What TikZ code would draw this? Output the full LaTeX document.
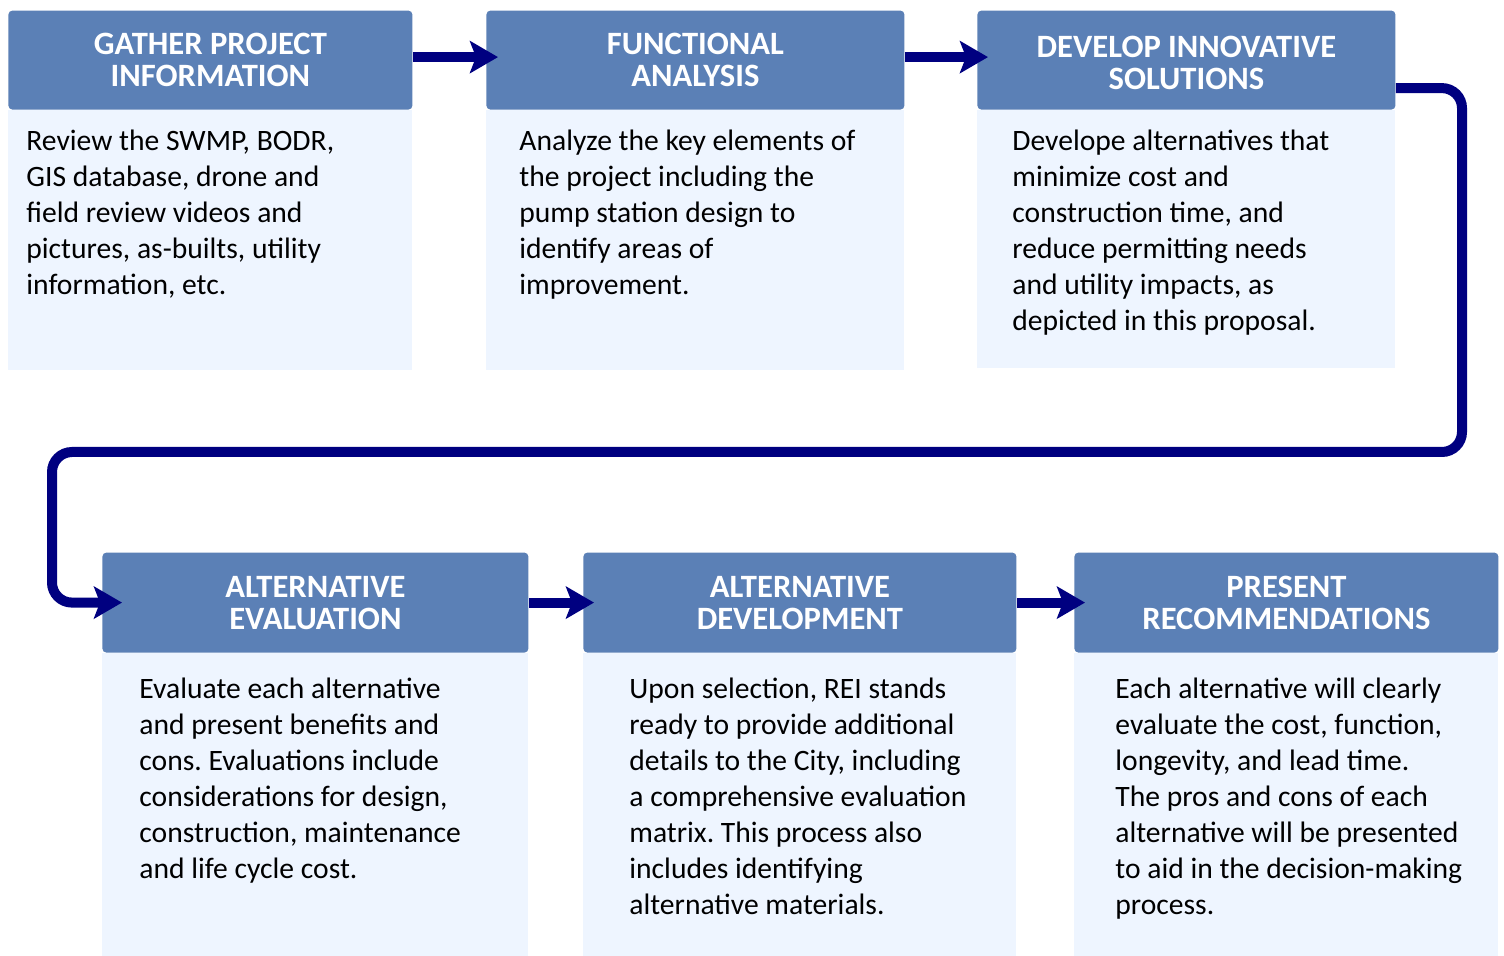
\documentclass[tikz,border=0pt]{standalone}
\usepackage{fontspec}
\setmainfont{Carlito}
\frenchspacing
\usetikzlibrary{arrows.meta, positioning}
\definecolor{HeadBlue}{RGB}{91, 128, 182}
\definecolor{BodyBlue}{RGB}{238, 245, 255}
\definecolor{FlowNavy}{RGB}{0, 0, 128}

\begin{document}
\begin{tikzpicture}[x=0.5pt, y=-0.5pt,
    head/.style={rectangle, rounded corners=2pt, fill=HeadBlue, text=white, align=center,
        font=\fontsize{16.3}{16}\selectfont\bfseries, minimum height=49.5pt, inner sep=0pt},
    body/.style={rectangle, fill=BodyBlue, anchor=north west, inner sep=0pt},
    bodytext/.style={anchor=north west, align=left, inner sep=0pt, text=black,
        font=\fontsize{14.8}{18}\selectfont},
    flow/.style={-{Stealth[length=14pt, width=16pt, inset=3pt]}, line width=5pt, FlowNavy}]

    \useasboundingbox (0,0) rectangle (1504,956);

    % 第一行
    \node[body, minimum width=202pt, minimum height=130pt] (gatherbody) at (8,110) {};
    \node[head, minimum width=202pt, above=0pt of gatherbody] (gather) {GATHER PROJECT\\INFORMATION};
    \node[bodytext] (gathertext) at ([xshift=9pt, yshift=-10pt]gatherbody.north west)
        {Review the SWMP, BODR,\\GIS database, drone and\\field review videos and\\pictures, as-builts, utility\\information, etc.};

    \node[body, minimum width=209pt, minimum height=130pt] (functionalbody) at (486,110) {};
    \node[head, minimum width=209pt, above=0pt of functionalbody] (functional) {FUNCTIONAL\\ANALYSIS};
    \node[bodytext] (functionaltext) at ([xshift=16.5pt, yshift=-10pt]functionalbody.north west)
        {Analyze the key elements of\\the project including the\\pump station design to\\identify areas of\\improvement.};

    \node[body, minimum width=209pt, minimum height=129pt] (developbody) at (977,110) {};
    \node[head, minimum width=209pt, above=0pt of developbody] (develop) {\rule{0pt}{14pt}DEVELOP INNOVATIVE\\SOLUTIONS};
    \node[bodytext] (developtext) at ([xshift=17.5pt, yshift=-10pt]developbody.north west)
        {Develope alternatives that\\minimize cost and\\construction time, and\\reduce permitting needs\\and utility impacts, as\\depicted in this proposal.};

    % 第二行
    \node[body, minimum width=213pt, minimum height=151.5pt] (evaluationbody) at (102,653) {};
    \node[head, minimum width=213pt, minimum height=50pt, above=0pt of evaluationbody] (evaluation) {ALTERNATIVE\\EVALUATION};
    \node[bodytext] (evaluationtext) at ([xshift=18.5pt, yshift=-12.5pt]evaluationbody.north west)
        {Evaluate each alternative\\and present benefits and\\cons. Evaluations include\\considerations for design,\\construction, maintenance\\and life cycle cost.};

    \node[body, minimum width=216.5pt, minimum height=151.5pt] (developmentbody) at (583,653) {};
    \node[head, minimum width=216.5pt, minimum height=50pt, above=0pt of developmentbody] (development) {ALTERNATIVE\\DEVELOPMENT};
    \node[bodytext] (developmenttext) at ([xshift=23pt, yshift=-12.5pt]developmentbody.north west)
        {Upon selection, REI stands\\ready to provide additional\\details to the City, including\\a comprehensive evaluation\\matrix. This process also\\includes identifying\\alternative materials.};

    \node[body, minimum width=212pt, minimum height=151.5pt] (presentbody) at (1074,653) {};
    \node[head, minimum width=212pt, minimum height=50pt, above=0pt of presentbody] (present) {PRESENT\\RECOMMENDATIONS};
    \node[bodytext] (presenttext) at ([xshift=20.5pt, yshift=-12.5pt]presentbody.north west)
        {Each alternative will clearly\\evaluate the cost, function,\\longevity, and lead time.\\The pros and cons of each\\alternative will be presented\\to aid in the decision-making\\process.};

    % 流程箭头
    \draw[flow, shorten >=-6pt] ([yshift=1.5pt]gather.east) -- ([yshift=1.5pt]functional.west);
    \draw[flow, shorten >=-5.5pt] ([yshift=1.5pt]functional.east) -- ([yshift=1.5pt]develop.west);
    \coordinate (loopright) at (1462,452);
    \coordinate (loopleft) at (52,452);
    \draw[flow, rounded corners=10pt, shorten >=-10pt]
        ([yshift=-14pt]develop.east) -| (loopright) -- (loopleft) |- (evaluation.west);
    \draw[flow, shorten >=-5.5pt] (evaluation.east) -- (development.west);
    \draw[flow, shorten >=-5.5pt] (development.east) -- (present.west);
\end{tikzpicture}
\end{document}
